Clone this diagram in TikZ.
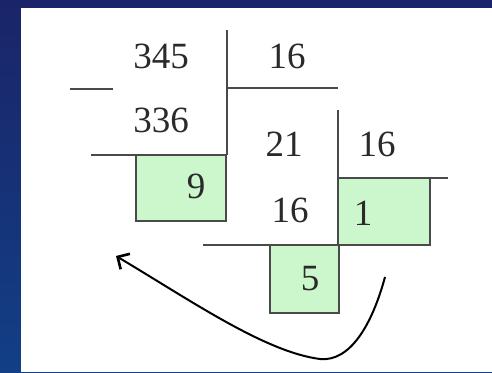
\documentclass[tikz,border=0pt]{standalone}
\usepackage{fontspec}
\setmainfont{Liberation Serif}
\usetikzlibrary{arrows.meta}
\definecolor{bgtop}{HTML}{1B2468}
\definecolor{bgbot}{HTML}{123F86}
\definecolor{boxfill}{HTML}{CCF6CC}
\definecolor{linec}{HTML}{4A4A4A}
\definecolor{txt}{HTML}{2A2A2A}
\tikzset{
  num/.style={font=\fontsize{37}{37}\selectfont, text=txt, inner sep=0pt, anchor=center},
  rule/.style={draw=linec, line width=1.6pt},
  gbox/.style={draw=linec, line width=1.6pt, fill=boxfill},
}
\begin{document}
\begin{tikzpicture}[x=1pt,y=-1pt]
\useasboundingbox (0,0) rectangle (492,372);
\shade[top color=bgtop, bottom color=bgbot] (0,0) rectangle (492,372);
\fill[white] (21,8) rectangle (492,372);
% green boxes
\draw[gbox] (136,155) rectangle (226,221);
\draw[gbox] (338,178) rectangle (430,245);
\draw[gbox] (270,245) rectangle (339,313);
% rules
\draw[rule] (227,30) -- (227,155);
\draw[rule] (227,88) -- (338,88);
\draw[rule] (70,89) -- (113,89);
\draw[rule] (91,155) -- (227,155);
\draw[rule] (338,110) -- (338,245);
\draw[rule] (338,178) -- (448,178);
\draw[rule] (203,245) -- (338,245);
% numbers
\node[num] (a) at (161,56) {345};
\node[num] (b) at (287,56) {16};
\node[num] (c) at (161,120) {336};
\node[num] (r1) at (196,186) {9};
\node[num] (d) at (284,144) {21};
\node[num] (e) at (377,144) {16};
\node[num] (f) at (290,210) {16};
\node[num] (q) at (363,213) {1};
\node[num] (r2) at (310,279) {5};
% arrow
\coordinate (s) at (385,277);
\coordinate (m) at (320,359);
\coordinate (t) at (116,256);
\draw[line width=2pt, -{Straight Barb[length=9pt,width=18pt,line width=2.6pt]}] (s) .. controls (372,325) and (350,362) .. (m) .. controls (265,352) and (190,300) .. (t);
\end{tikzpicture}
\end{document}
